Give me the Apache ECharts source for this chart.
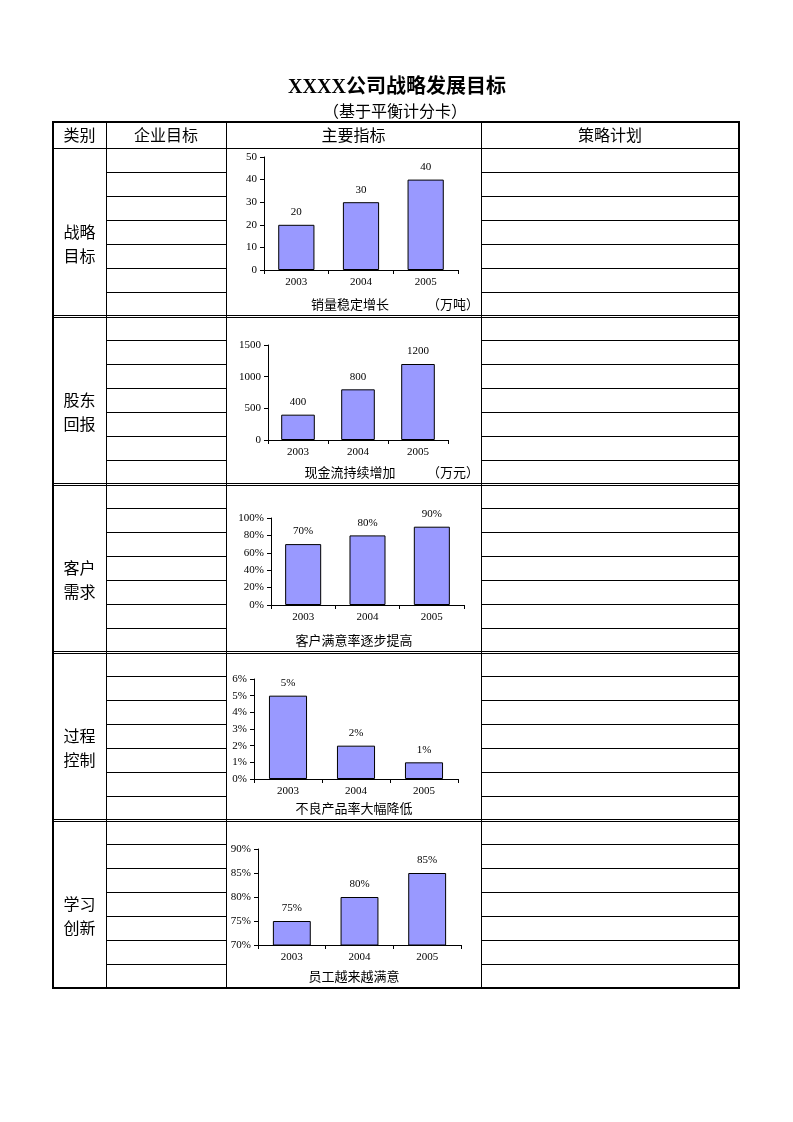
<!DOCTYPE html>
<html>
<head>
<meta charset="utf-8">
<script src="https://cdn.jsdelivr.net/npm/echarts@6/dist/echarts.min.js"></script>
<style>
  html, body { margin: 0; padding: 0; background: #fff; }
  #main { width: 793px; height: 1122px; }
</style>
</head>
<body>
<div id="main"></div>
<script>
// data
const years = ['2003', '2004', '2005'];
const salesVals = [20, 30, 40];        // 万吨
const cashVals = [400, 800, 1200];     // 万元
const custVals = [70, 80, 90];         // %
const defectVals = [5, 2, 1];          // %
const staffVals = [75, 80, 85];        // %
const chartNames = ['销量稳定增长', '现金流持续增加', '客户满意率逐步提高', '不良产品率大幅降低', '员工越来越满意'];
const chartUnits = ['（万吨）', '（万元）', '', '', ''];
const sectionNames = [['战略', '目标'], ['股东', '回报'], ['客户', '需求'], ['过程', '控制'], ['学习', '创新']];
const headerCols = ['类别', '企业目标', '主要指标', '策略计划'];
const pageTitle = 'XXXX公司战略发展目标';
const pageSub = '（基于平衡计分卡）';

const cjk = '"Noto Sans CJK SC", sans-serif';
const num = '"Liberation Serif", serif';

// table layout
const X0 = 53, X1 = 106, X2 = 226, X3 = 481, X4 = 739;
const TOP = 122, HEAD = 148, ROW = 24, SEC = 168, BOTTOM = 988;

const graphic = [];
function hline(x1, x2, y, w) {
  graphic.push({ type: 'line', shape: { x1: x1, y1: y, x2: x2, y2: y }, style: { stroke: '#000', lineWidth: w || 1 } });
}
function vline(x, y1, y2, w) {
  graphic.push({ type: 'line', shape: { x1: x, y1: y1, x2: x, y2: y2 }, style: { stroke: '#000', lineWidth: w || 1 } });
}
function text(str, x, y, size, align) {
  graphic.push({
    type: 'text', x: x, y: y,
    style: { text: str, font: size + 'px ' + cjk, fill: '#000', textAlign: align || 'center', textVerticalAlign: 'middle' }
  });
}

// title
graphic.push({
  type: 'text', x: 397, y: 88,
  style: { text: pageTitle, font: 'bold 20px "Liberation Serif", "Noto Sans CJK SC", serif', fill: '#000', textAlign: 'center', textVerticalAlign: 'middle' }
});
text(pageSub, 395, 111, 16);

// header
const headerX = [(X0 + X1) / 2, (X1 + X2) / 2, (X2 + X3) / 2, (X3 + X4) / 2];
headerCols.forEach((h, i) => text(h, headerX[i], 135, 16));
hline(X0, X4, HEAD + 0.5);

// column lines
vline(X1 + 0.5, TOP, BOTTOM);
vline(X2 + 0.5, TOP, BOTTOM);
vline(X3 + 0.5, TOP, BOTTOM);

// sections
for (let k = 0; k < 5; k++) {
  const s = HEAD + SEC * k;
  for (let j = 1; j < 7; j++) {
    hline(X1, X2, s + ROW * j + 0.5);
    hline(X3, X4, s + ROW * j + 0.5);
  }
  if (k < 4) {
    hline(X0, X4, s + SEC - 0.5);
    hline(X0, X4, s + SEC + 1.5);
  }
  text(sectionNames[k][0], (X0 + X1) / 2, s + 84, 16);
  text(sectionNames[k][1], (X0 + X1) / 2, s + 108, 16);
  text(chartNames[k], k < 2 ? 350 : 354, s + 156, 13);
  if (chartUnits[k]) text(chartUnits[k], 453, s + 156, 13);
}

// outer border
graphic.push({ type: 'rect', shape: { x: X0, y: TOP, width: X4 - X0, height: BOTTOM - TOP }, style: { fill: 'none', stroke: '#000', lineWidth: 2 } });

// charts
const grids = [
  { left: 264, top: 157, width: 194, height: 113 },
  { left: 268, top: 345, width: 180, height: 95 },
  { left: 271, top: 518, width: 193, height: 87 },
  { left: 254, top: 679, width: 204, height: 100 },
  { left: 258, top: 849, width: 203, height: 96 }
];
const series = [salesVals, cashVals, custVals, defectVals, staffVals];
const yScales = [
  { min: 0, max: 50, interval: 10, pct: false },
  { min: 0, max: 1500, interval: 500, pct: false },
  { min: 0, max: 100, interval: 20, pct: true },
  { min: 0, max: 6, interval: 1, pct: true },
  { min: 70, max: 90, interval: 5, pct: true }
];

const option = {
  animation: false,
  graphic: graphic,
  grid: grids.map(g => Object.assign({ containLabel: false }, g)),
  xAxis: grids.map((g, i) => ({
    type: 'category',
    gridIndex: i,
    data: years,
    boundaryGap: true,
    axisLine: { lineStyle: { color: '#000', width: 1 } },
    axisTick: { show: true, length: 4, lineStyle: { color: '#000' } },
    axisLabel: { color: '#000', fontSize: 11, fontFamily: num, margin: 7 }
  })),
  yAxis: yScales.map((s, i) => ({
    type: 'value',
    gridIndex: i,
    min: s.min, max: s.max, interval: s.interval,
    splitLine: { show: false },
    axisLine: { show: true, lineStyle: { color: '#000', width: 1 } },
    axisTick: { show: true, length: 4, lineStyle: { color: '#000' } },
    axisLabel: {
      color: '#000', fontSize: 11, fontFamily: num, margin: 7,
      formatter: v => String(v) + (s.pct ? '%' : '')
    }
  })),
  series: series.map((vals, i) => ({
    type: 'bar',
    xAxisIndex: i, yAxisIndex: i,
    data: vals,
    barCategoryGap: '44%',
    itemStyle: { color: '#9999FF', borderColor: '#000', borderWidth: 1 },
    label: {
      show: true, position: 'top', distance: 7,
      color: '#000', fontSize: 11, fontFamily: num,
      formatter: yScales[i].pct ? '{c}%' : '{c}'
    }
  }))
};

const chart = echarts.init(document.getElementById('main'));
chart.setOption(option);
window.addEventListener('resize', () => chart.resize());
</script>
</body>
</html>
